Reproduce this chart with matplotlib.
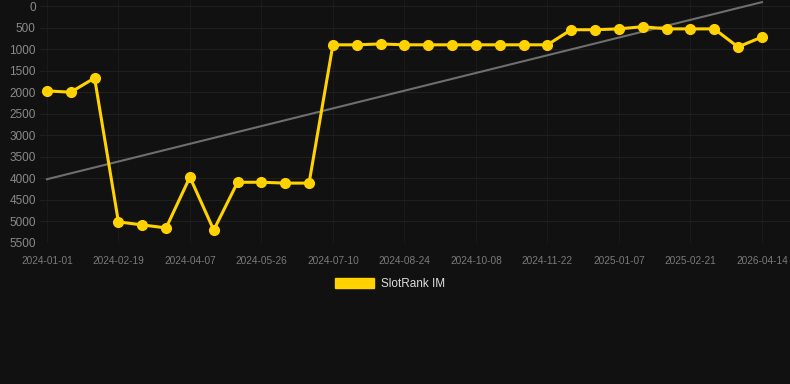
import matplotlib.pyplot as plt
from matplotlib.patches import Patch

# ================================
# Data
# ================================

DATES = [
    "2024-01-01", "2024-01-17", "2024-02-02",
    "2024-02-19", "2024-03-06", "2024-03-22",
    "2024-04-07", "2024-04-23", "2024-05-10",
    "2024-05-26", "2024-06-10", "2024-06-25",
    "2024-07-10", "2024-07-25", "2024-08-09",
    "2024-08-24", "2024-09-08", "2024-09-23",
    "2024-10-08", "2024-10-23", "2024-11-07",
    "2024-11-22", "2024-12-08", "2024-12-23",
    "2025-01-07", "2025-01-22", "2025-02-06",
    "2025-02-21", "2025-03-10", "2025-03-26",
    "2026-04-14",
]
RANKS = [
    1970, 2000, 1670, 5010, 5080, 5150, 3970, 5200, 4090, 4090, 4110,
    4110, 900, 900, 880, 900, 900, 900, 900, 900, 900, 900, 550, 550,
    530, 480, 530, 530, 530, 950, 720,
]
TREND = [4020, -90]  # trend line value at first / last point
Y_TICKS = list(range(0, 5501, 500))
SERIES_NAME = "SlotRank IM"

# ================================
# Style
# ================================

BG = "#111111"
YELLOW = "#FFD200"

plt.rcParams["font.family"] = ["Liberation Sans", "DejaVu Sans"]

fig = plt.figure(figsize=(7.9, 3.84), dpi=100, facecolor=BG)
ax = fig.add_axes([40 / 790, 1 - 243 / 384, 750 / 790, 243 / 384])
ax.set_facecolor(BG)

xs = list(range(len(DATES)))

ax.plot([xs[0], xs[-1]], TREND, color="#6e6e6e", linewidth=1.5, zorder=2)
ax.plot(xs, RANKS, color=YELLOW, linewidth=2.2, marker="o",
        markersize=7, zorder=3)

ax.set_ylim(5500, -140)
ax.set_yticks(Y_TICKS)
ax.set_xlim(-0.29, 31.18)
ax.set_xticks(xs[::3])
ax.set_xticklabels(DATES[::3])

ax.grid(True, axis="y", color="#1f1f1f", linewidth=0.8)
ax.grid(True, axis="x", color="#1a1a1a", linewidth=0.8)
ax.set_axisbelow(True)
for s in ax.spines.values():
    s.set_visible(False)

ax.tick_params(axis="y", length=0, pad=3, labelsize=8.5, labelcolor="#8a8a8a")
ax.tick_params(axis="x", length=0, pad=9, labelsize=7.3, labelcolor="#7a7a7a")

fig.legend(
    handles=[Patch(facecolor=YELLOW, edgecolor=YELLOW)],
    labels=[SERIES_NAME],
    loc="center",
    bbox_to_anchor=(390 / 790, 1 - 284 / 384),
    frameon=False,
    fontsize=8.5,
    labelcolor="#dddddd",
    handlelength=3.3,
    handleheight=0.9,
    handletextpad=0.6,
)

fig.savefig("out.png", dpi=100, facecolor=BG)
